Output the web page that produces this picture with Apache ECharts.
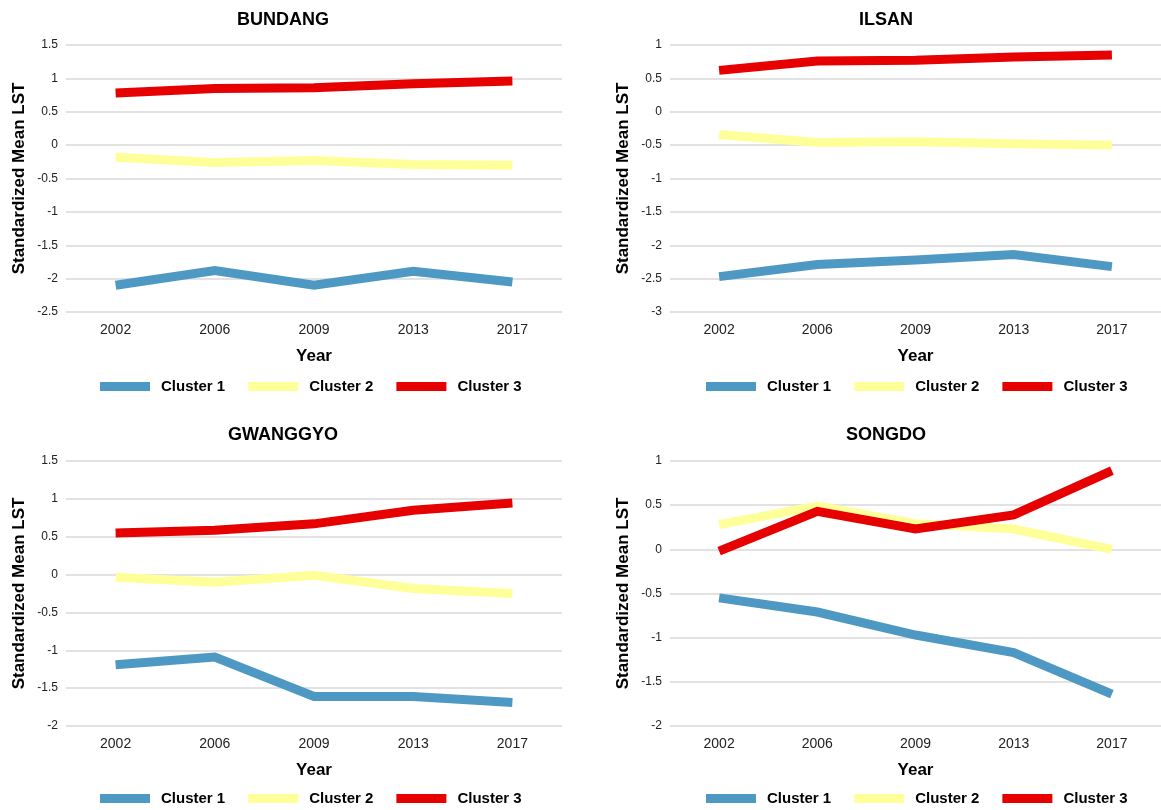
<!DOCTYPE html>
<html>
<head>
<meta charset="utf-8">
<script src="https://cdn.jsdelivr.net/npm/echarts@6/dist/echarts.min.js"></script>
<style>
html,body{margin:0;padding:0;background:#fff;}
#chart{width:1161px;height:810px;}
</style>
</head>
<body>
<div id="chart"></div>
<script>
const years = ['2002', '2006', '2009', '2013', '2017'];
const clusterNames = ['Cluster 1', 'Cluster 2', 'Cluster 3'];
const panelTitles = ['BUNDANG', 'ILSAN', 'GWANGGYO', 'SONGDO'];

const bundangC1 = [-2.10, -1.88, -2.10, -1.89, -2.05];
const bundangC2 = [-0.18, -0.26, -0.23, -0.29, -0.30];
const bundangC3 = [0.78, 0.85, 0.86, 0.92, 0.96];

const ilsanC1 = [-2.47, -2.29, -2.22, -2.14, -2.32];
const ilsanC2 = [-0.34, -0.46, -0.45, -0.48, -0.50];
const ilsanC3 = [0.62, 0.76, 0.77, 0.82, 0.85];

const gwanggyoC1 = [-1.19, -1.09, -1.61, -1.61, -1.69];
const gwanggyoC2 = [-0.035, -0.10, -0.01, -0.185, -0.25];
const gwanggyoC3 = [0.55, 0.585, 0.67, 0.85, 0.945];

const songdoC1 = [-0.55, -0.71, -0.97, -1.17, -1.64];
const songdoC2 = [0.28, 0.49, 0.29, 0.23, 0.00];
const songdoC3 = [-0.02, 0.43, 0.23, 0.39, 0.89];

const yMins = [-2.5, -3, -2, -2];
const yMaxs = [1.5, 1, 1.5, 1];
const yInterval = 0.5;

const panelData = [
  [bundangC1, bundangC2, bundangC3],
  [ilsanC1, ilsanC2, ilsanC3],
  [gwanggyoC1, gwanggyoC2, gwanggyoC3],
  [songdoC1, songdoC2, songdoC3]
];

const colors = ['#4e99c4', '#ffff99', '#e60000'];
const FONT = '"Liberation Sans", Arial, sans-serif';

const layout = [
  {left: 66, width: 496, top: 45, height: 267, titleX: 283, titleTop: 11, legendLeft: 100, legendTop: 379},
  {left: 670, width: 500, top: 45, height: 267, titleX: 886, titleTop: 11, legendLeft: 706, legendTop: 379},
  {left: 66, width: 496, top: 461, height: 265, titleX: 283, titleTop: 426, legendLeft: 100, legendTop: 791},
  {left: 670, width: 500, top: 461, height: 265, titleX: 886, titleTop: 426, legendLeft: 706, legendTop: 791}
];

const grids = [], xAxes = [], yAxes = [], titles = [], legends = [], series = [];
layout.forEach((L, i) => {
  grids.push({left: L.left, top: L.top, width: L.width, height: L.height, containLabel: false});
  titles.push({
    text: panelTitles[i], left: L.titleX, top: L.titleTop, textAlign: 'center', padding: 0,
    textStyle: {fontFamily: FONT, fontSize: 18, fontWeight: 'bold', color: '#000'}
  });
  xAxes.push({
    type: 'category', gridIndex: i, data: years, boundaryGap: true,
    name: 'Year', nameLocation: 'middle', nameGap: 36,
    nameTextStyle: {fontFamily: FONT, fontSize: 17, fontWeight: 'bold', color: '#000'},
    axisLine: {show: false}, axisTick: {show: false},
    axisLabel: {fontFamily: FONT, fontSize: 14, color: '#222', margin: 11},
    splitLine: {show: false}
  });
  yAxes.push({
    type: 'value', gridIndex: i, min: yMins[i], max: yMaxs[i], interval: yInterval,
    name: 'Standardized Mean LST', nameLocation: 'middle', nameRotate: 90, nameGap: 38,
    nameTextStyle: {fontFamily: FONT, fontSize: 17, fontWeight: 'bold', color: '#000'},
    axisLine: {show: false}, axisTick: {show: false},
    axisLabel: {fontFamily: FONT, fontSize: 12, color: '#222', margin: 8},
    splitLine: {show: true, lineStyle: {color: '#d9d9d9', width: 1.5}}
  });
  legends.push({
    left: L.legendLeft, top: L.legendTop, padding: 0, orient: 'horizontal',
    itemWidth: 50, itemHeight: 9, itemGap: 23,
    data: clusterNames.map(n => ({name: n, icon: 'rect'})),
    textStyle: {fontFamily: FONT, fontSize: 15, fontWeight: 'bold', color: '#000', padding: [0, 0, 0, 6]},
    selectedMode: false
  });
  panelData[i].forEach((vals, k) => {
    series.push({
      type: 'line', name: clusterNames[k], xAxisIndex: i, yAxisIndex: i,
      data: vals, showSymbol: false, symbol: 'none', smooth: false,
      lineStyle: {color: colors[k], width: 9, cap: 'butt', join: 'miter'},
      itemStyle: {color: colors[k]},
      animation: false, silent: true
    });
  });
});

// legends need to filter to their own series names; all share names, so fine.
const chart = echarts.init(document.getElementById('chart'), null, {renderer: 'canvas'});
chart.setOption({
  backgroundColor: '#fff',
  animation: false,
  title: titles,
  legend: legends,
  grid: grids,
  xAxis: xAxes,
  yAxis: yAxes,
  series: series
});
</script>
</body>
</html>
